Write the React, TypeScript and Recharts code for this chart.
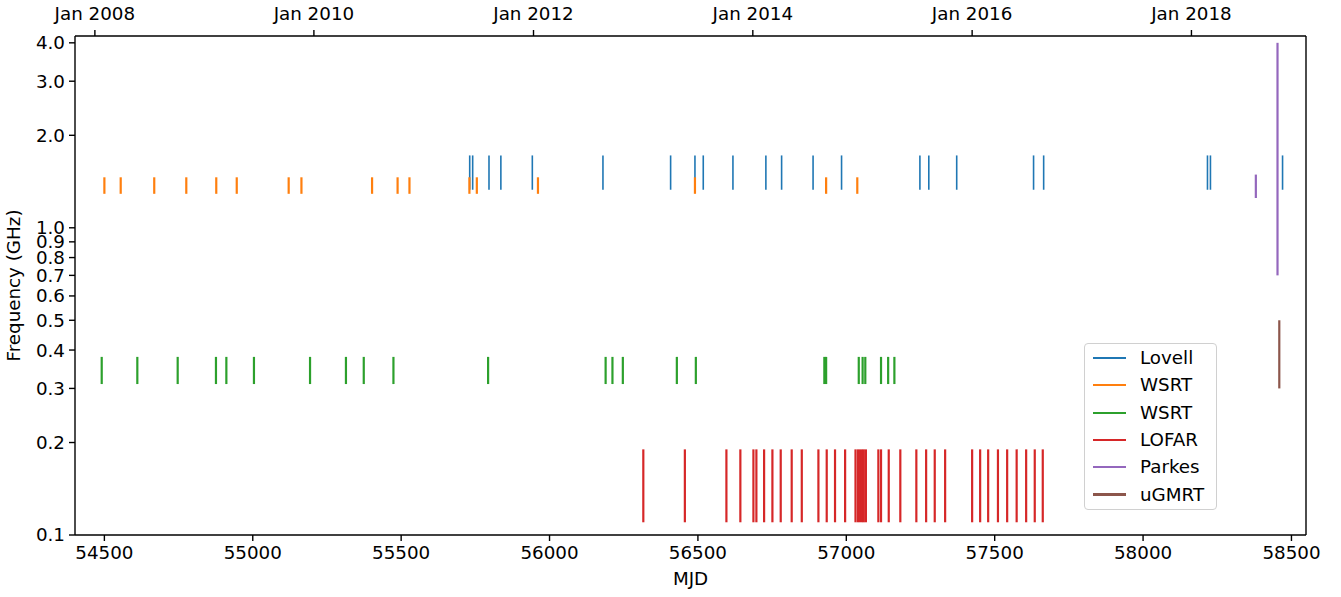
import { ComposedChart, XAxis, YAxis, ReferenceLine, Scatter } from 'recharts';

const lovellMjd = [55731, 55741, 55796, 55836, 55942, 56180, 56408, 56490, 56518, 56618, 56729, 56782, 56888, 56984, 57248, 57278, 57372, 57631, 57665, 58217, 58227, 58470];
const wsrtLMjd = [54500, 54555, 54668, 54776, 54877, 54946, 55121, 55164, 55402, 55488, 55528, 55730, 55755, 55961, 56490, 56932, 57037];
const wsrtPMjd = [54491, 54611, 54747, 54876, 54911, 55004, 55193, 55314, 55374, 55474, 55793, 56189, 56212, 56247, 56429, 56493, 56926, 56932, 57042, 57055, 57064, 57117, 57141, 57162];
const lofarMjd = [56316, 56456, 56596, 56643, 56687, 56697, 56723, 56751, 56779, 56816, 56850, 56906, 56934, 56962, 56996, 57031, 57039, 57046, 57053, 57059, 57066, 57108, 57117, 57143, 57182, 57236, 57269, 57298, 57333, 57424, 57451, 57478, 57511, 57542, 57574, 57606, 57635, 57662];
const parkesMjd = [58380, 58453];
const ugmrtMjd = [58459];

// frequency coverage (GHz) of each band
const lovellBand = [1.33, 1.72];
const wsrtLBand = [1.29, 1.46];
const wsrtPBand = [0.31, 0.38];
const lofarBand = [0.11, 0.19];
const parkesBands = [[1.25, 1.49], [0.7, 4.0]];
const ugmrtBand = [0.3, 0.5];

const yTicks = [0.1, 0.2, 0.3, 0.4, 0.5, 0.6, 0.7, 0.8, 0.9, 1.0, 2.0, 3.0, 4.0];
const xTicks = [54500, 55000, 55500, 56000, 56500, 57000, 57500, 58000, 58500];
const dateTickMjd = [54468, 55206, 55946, 56685, 57424, 58163];
const dateTickLabels = ['Jan 2008', 'Jan 2010', 'Jan 2012', 'Jan 2014', 'Jan 2016', 'Jan 2018'];

const legendNames = ['Lovell', 'WSRT', 'WSRT', 'LOFAR', 'Parkes', 'uGMRT'];
const COLORS = ['#1f77b4', '#ff7f0e', '#2ca02c', '#d62728', '#9467bd', '#8c564b'];

const FONT = "'DejaVu Sans', sans-serif";
const FS = 18.3;

type Seg = { x: number; lo: number; hi: number; color: string; w: number };

function buildSegments(): Seg[] {
  const segs: Seg[] = [];
  const add = (mjds: number[], band: number[], color: string, w: number) =>
    mjds.forEach((x) => segs.push({ x, lo: band[0], hi: band[1], color, w }));
  add(lovellMjd, lovellBand, COLORS[0], 1.6);
  add(wsrtLMjd, wsrtLBand, COLORS[1], 2.2);
  add(wsrtPMjd, wsrtPBand, COLORS[2], 2.2);
  add(lofarMjd, lofarBand, COLORS[3], 2.2);
  add([parkesMjd[0]], parkesBands[0], COLORS[4], 2.2);
  add([parkesMjd[1]], parkesBands[1], COLORS[4], 2.2);
  add(ugmrtMjd, ugmrtBand, COLORS[5], 2.2);
  return segs;
}

// anchor points so the secondary (top / right) axes get a scale and draw their ticks
const anchorPts = dateTickMjd.map((x) => ({ x, y: 1 }));

const tickStyle = { fontSize: FS, fontFamily: FONT, fill: '#000' };
const axisStroke = { stroke: '#000', strokeWidth: 1.4 };

export default function App() {
  const segs = buildSegments();
  return (
    <div style={{ position: 'absolute', left: 0, top: 0, width: 1341, height: 597, background: '#fff', fontFamily: FONT }}>
      <ComposedChart width={1341} height={597} margin={{ top: 0, right: 0, bottom: 0, left: 0 }}>
        <XAxis
          xAxisId={0}
          type="number"
          dataKey="x"
          domain={[54401, 58549]}
          allowDataOverflow
          ticks={xTicks}
          interval={0}
          height={62}
          tick={tickStyle}
          tickSize={6}
          tickMargin={5}
          axisLine={axisStroke}
          tickLine={axisStroke}
          label={{ value: 'MJD', position: 'insideBottom', offset: 12, style: { fontSize: FS, fontFamily: FONT, fill: '#000' } }}
        />
        <XAxis
          xAxisId="top"
          orientation="top"
          type="number"
          dataKey="x"
          domain={[54401, 58549]}
          allowDataOverflow
          ticks={dateTickMjd}
          interval={0}
          tickFormatter={(v: number) => dateTickLabels[dateTickMjd.indexOf(v)] ?? ''}
          height={36}
          tick={tickStyle}
          tickSize={6}
          tickMargin={10}
          axisLine={axisStroke}
          tickLine={axisStroke}
        />
        <YAxis
          yAxisId={0}
          type="number"
          scale="log"
          domain={[0.1, 4.21]}
          allowDataOverflow
          ticks={yTicks}
          interval={0}
          tickFormatter={(v: number) => v.toFixed(1)}
          width={75}
          tick={tickStyle}
          tickSize={6}
          tickMargin={4}
          axisLine={axisStroke}
          tickLine={axisStroke}
          label={{ value: 'Frequency (GHz)', angle: -90, position: 'insideLeft', offset: 14, textAnchor: 'middle', style: { fontSize: FS, fontFamily: FONT, fill: '#000', textAnchor: 'middle' } }}
        />
        <YAxis
          yAxisId="right"
          orientation="right"
          type="number"
          dataKey="y"
          scale="log"
          domain={[0.1, 4.21]}
          allowDataOverflow
          ticks={yTicks}
          interval={0}
          width={35}
          tick={false}
          tickSize={6}
          axisLine={axisStroke}
          tickLine={axisStroke}
        />
        <Scatter
          xAxisId="top"
          yAxisId="right"
          data={anchorPts}
          dataKey="y"
          shape={() => <g />}
          isAnimationActive={false}
        />
        {segs.map((s, i) => (
          <ReferenceLine
            key={i}
            xAxisId={0}
            yAxisId={0}
            segment={[{ x: s.x, y: s.lo }, { x: s.x, y: s.hi }]}
            stroke={s.color}
            strokeWidth={s.w}
          />
        ))}
      </ComposedChart>
      <div
        style={{
          position: 'absolute',
          left: 1084,
          top: 343,
          width: 133,
          height: 167,
          border: '1px solid #d0d0d0',
          borderRadius: 4,
          background: 'rgba(255,255,255,0.8)',
          boxSizing: 'border-box',
        }}
      >
        {legendNames.map((name, i) => (
          <div key={i} style={{ position: 'absolute', left: 8, top: 4 + i * 27.3, height: 20, display: 'flex', alignItems: 'center' }}>
            <div style={{ width: 33, height: i === 0 ? 1.6 : 2.2, background: COLORS[i] }} />
            <span style={{ marginLeft: 14, fontSize: FS, lineHeight: '20px', color: '#000' }}>{name}</span>
          </div>
        ))}
      </div>
    </div>
  );
}
